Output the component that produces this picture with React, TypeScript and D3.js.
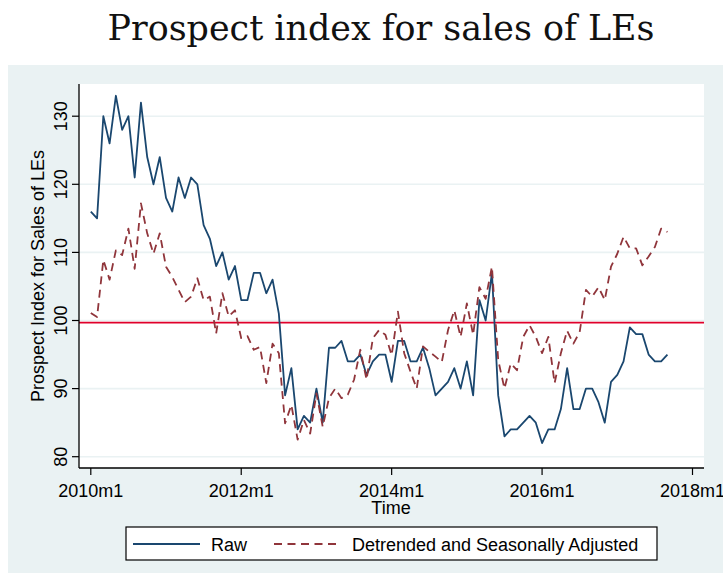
import React from "react";
import * as d3 from "d3";

// months since 2010m1
const startYear = 2010;
const rawValues = [
  116, 115, 130, 126, 133, 128, 130, 121, 132, 124, 120, 124,
  118, 116, 121, 118, 121, 120, 114, 112, 108, 110, 106, 108,
  103, 103, 107, 107, 104, 106, 101, 89, 93, 84, 86, 85,
  90, 85, 96, 96, 97, 94, 94, 95, 92, 94, 95, 95,
  91, 97, 97, 94, 94, 96, 93, 89, 90, 91, 93, 90,
  94, 89, 103, 100, 107, 89, 83, 84, 84, 85, 86, 85,
  82, 84, 84, 87, 93, 87, 87, 90, 90, 88, 85, 91,
  92, 94, 99, 98, 98, 95, 94, 94, 95,
];
const adjustedValues = [
  101.1, 100.5, 108.9, 106.0, 110.3, 109.6, 113.5, 107.6, 117.2, 112.8, 109.8, 112.8,
  107.9, 106.4, 104.5, 102.7, 103.5, 106.2, 103.0, 103.5, 98.1, 104.0, 100.6, 101.5,
  97.4, 97.7, 95.7, 96.1, 90.8, 96.6, 95.2, 84.9, 87.6, 82.5, 85.4, 83.4,
  89.3, 84.4, 88.6, 90.0, 88.6, 89.1, 91.3, 95.7, 91.3, 97.4, 98.6, 97.9,
  94.9, 101.3, 95.2, 92.5, 90.0, 96.2, 95.4, 94.7, 93.9, 98.6, 101.5, 97.6,
  102.5, 97.9, 104.9, 103.2, 107.9, 94.2, 90.0, 93.7, 92.7, 97.6, 99.3, 97.6,
  95.2, 97.6, 90.8, 95.2, 98.5, 96.6, 98.3, 104.5, 103.5, 104.9, 103.0, 107.9,
  109.8, 112.3, 110.6, 110.6, 108.1, 109.4, 110.8, 113.5, 113.0,
];
const referenceLevel = 99.7;
const yTicks = [80, 90, 100, 110, 120, 130];
const xTickMonths = [0, 24, 48, 72, 96];
const xTickLabels = ["2010m1", "2012m1", "2014m1", "2016m1", "2018m1"];
const seriesNames = ["Raw", "Detrended and Seasonally Adjusted"];
const titleText = "Prospect index for sales of LEs";
const yTitle = "Prospect Index for Sales of LEs";
const xTitle = "Time";

const W = 723;
const H = 580;
const plot = { left: 79, right: 704, top: 84, bottom: 468 };
const NAVY = "#1a476f";
const MAROON = "#90353b";
const RED = "#e0002b";
const PANEL = "#eaf2f3";
const SANS = "'Liberation Sans', Arial, sans-serif";

export default function App() {
  const x = d3.scaleLinear().domain([0, 96]).range([90.8, 692.5]);
  const y = d3.scaleLinear().domain([80, 130]).range([456.7, 116.2]);
  const line = d3
    .line<number>()
    .x((_, i) => x(i))
    .y((d) => y(d));

  return (
    <svg
      width={W}
      height={H}
      style={{ position: "absolute", left: 0, top: 0, background: "#fff" }}
    >
      <rect x={8} y={65} width={W - 8} height={508} fill={PANEL} />
      <text
        x={381}
        y={40}
        textAnchor="middle"
        fontFamily="'DejaVu Serif', serif"
        fontSize={36}
        textLength={547}
        lengthAdjust="spacingAndGlyphs"
        fill="#111"
      >
        {titleText}
      </text>
      <rect
        x={plot.left}
        y={plot.top}
        width={plot.right - plot.left}
        height={plot.bottom - plot.top}
        fill="#fff"
      />
      {yTicks.map((t) => (
        <line
          key={"g" + t}
          x1={plot.left}
          x2={plot.right}
          y1={y(t)}
          y2={y(t)}
          stroke={PANEL}
          strokeWidth={1.6}
        />
      ))}
      <line
        x1={plot.left}
        x2={plot.right}
        y1={y(referenceLevel)}
        y2={y(referenceLevel)}
        stroke={RED}
        strokeWidth={1.8}
      />
      <path
        d={line(rawValues) || ""}
        fill="none"
        stroke={NAVY}
        strokeWidth={1.8}
        strokeLinejoin="round"
      />
      <path
        d={line(adjustedValues) || ""}
        fill="none"
        stroke={MAROON}
        strokeWidth={1.8}
        strokeDasharray="8 5.5"
        strokeLinejoin="round"
      />
      {/* axes */}
      <line x1={plot.left} x2={plot.left} y1={plot.top} y2={plot.bottom} stroke="#000" strokeWidth={1.3} />
      <line x1={plot.left} x2={plot.right} y1={plot.bottom} y2={plot.bottom} stroke="#000" strokeWidth={1.3} />
      {yTicks.map((t) => (
        <g key={"yt" + t}>
          <line x1={plot.left - 7} x2={plot.left} y1={y(t)} y2={y(t)} stroke="#000" strokeWidth={1.2} />
          <text
            transform={`translate(67,${y(t)}) rotate(-90)`}
            textAnchor="middle"
            fontFamily={SANS}
            fontSize={18}
            fill="#000"
          >
            {t}
          </text>
        </g>
      ))}
      {xTickMonths.map((m, i) => (
        <g key={"xt" + m}>
          <line x1={x(m)} x2={x(m)} y1={plot.bottom} y2={plot.bottom + 7} stroke="#000" strokeWidth={1.2} />
          <text x={x(m)} y={497} textAnchor="middle" fontFamily={SANS} fontSize={18} fill="#000">
            {xTickLabels[i]}
          </text>
        </g>
      ))}
      <text x={391} y={514} textAnchor="middle" fontFamily={SANS} fontSize={18} fill="#000">
        {xTitle}
      </text>
      <text
        transform={`translate(44,276) rotate(-90)`}
        textAnchor="middle"
        fontFamily={SANS}
        fontSize={18}
        fill="#000"
      >
        {yTitle}
      </text>
      {/* legend */}
      <rect x={126} y={527} width={531} height={33} fill="#fff" stroke="#000" strokeWidth={1.2} />
      <line x1={133} x2={200} y1={544} y2={544} stroke={NAVY} strokeWidth={1.8} />
      <text x={211} y={550.5} fontFamily={SANS} fontSize={18} fill="#000">
        {seriesNames[0]}
      </text>
      <line x1={274} x2={341} y1={544} y2={544} stroke={MAROON} strokeWidth={1.8} strokeDasharray="8 5.5" />
      <text x={352} y={550.5} fontFamily={SANS} fontSize={18} fill="#000">
        {seriesNames[1]}
      </text>
    </svg>
  );
}
